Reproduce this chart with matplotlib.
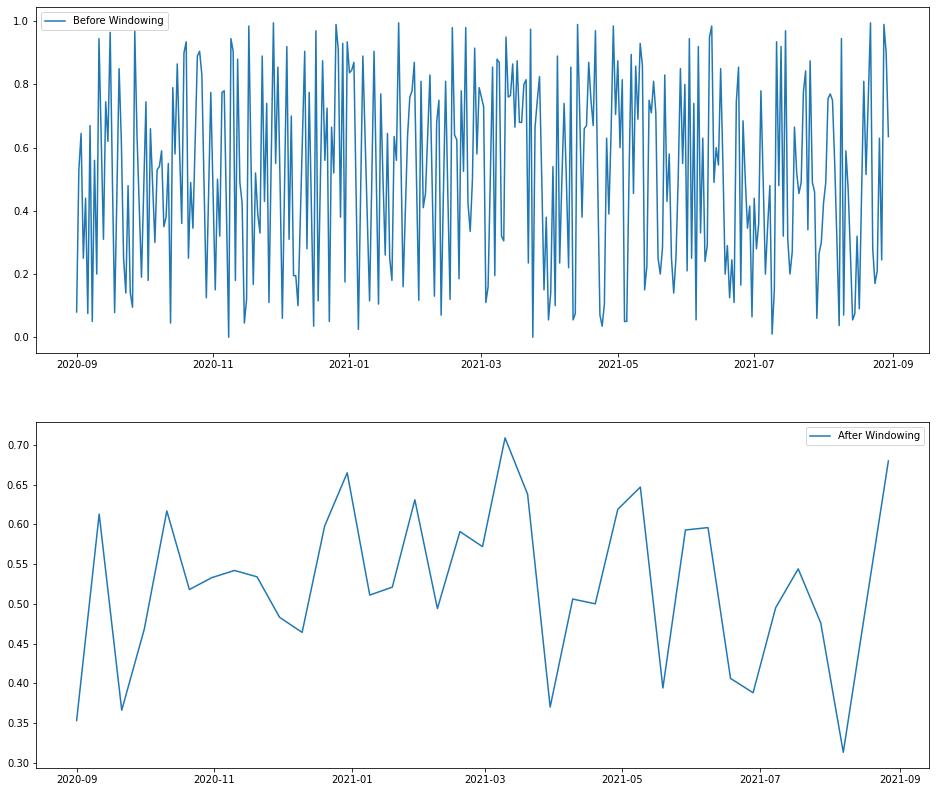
import pandas as pd
import matplotlib.pyplot as plt

# daily values (from 2020-09-01)
before_vals = [
    0.08, 0.53, 0.645, 0.25, 0.44, 0.075, 0.67, 0.05, 0.56, 0.20,
    0.945, 0.62, 0.31, 0.745, 0.62, 0.965, 0.5, 0.078, 0.45, 0.85,
    0.62, 0.25, 0.14, 0.48, 0.14, 0.095, 0.97, 0.64, 0.41, 0.19,
    0.47, 0.745, 0.18, 0.66, 0.48, 0.30, 0.53, 0.54, 0.59, 0.35,
    0.38, 0.55, 0.045, 0.79, 0.58, 0.865, 0.6, 0.36, 0.90, 0.935,
    0.25, 0.49, 0.345, 0.62, 0.89, 0.905, 0.83, 0.48, 0.125, 0.45,
    0.775, 0.46, 0.15, 0.50, 0.32, 0.775, 0.78, 0.4, 0.0, 0.945,
    0.905, 0.18, 0.88, 0.49, 0.425, 0.045, 0.12, 0.985, 0.55, 0.167,
    0.52, 0.39, 0.33, 0.89, 0.43, 0.74, 0.11, 0.55, 0.995, 0.55,
    0.855, 0.48, 0.06, 0.5, 0.92, 0.31, 0.70, 0.195, 0.195, 0.10,
    0.37, 0.64, 0.905, 0.28, 0.775, 0.4, 0.035, 0.97, 0.115, 0.5,
    0.875, 0.56, 0.725, 0.05, 0.665, 0.52, 0.99, 0.91, 0.38, 0.93,
    0.175, 0.935, 0.837, 0.845, 0.87, 0.45, 0.025, 0.45, 0.89, 0.63,
    0.37, 0.115, 0.5, 0.905, 0.5, 0.105, 0.77, 0.5, 0.26, 0.645,
    0.25, 0.18, 0.635, 0.56, 0.995, 0.58, 0.16, 0.4, 0.64, 0.76,
    0.78, 0.87, 0.5, 0.117, 0.81, 0.41, 0.455, 0.64, 0.83, 0.48,
    0.13, 0.68, 0.75, 0.07, 0.45, 0.81, 0.45, 0.12, 0.98, 0.64,
    0.625, 0.185, 0.78, 0.525, 0.98, 0.425, 0.335, 0.5, 0.915, 0.58,
    0.79, 0.76, 0.73, 0.11, 0.16, 0.5, 0.855, 0.195, 0.88, 0.87,
    0.32, 0.305, 0.95, 0.76, 0.765, 0.865, 0.665, 0.875, 0.68, 0.68,
    0.80, 0.815, 0.235, 0.975, 0.0, 0.665, 0.75, 0.825, 0.5, 0.15,
    0.38, 0.055, 0.14, 0.54, 0.10, 0.89, 0.235, 0.5, 0.74, 0.5,
    0.22, 0.855, 0.055, 0.075, 0.99, 0.7, 0.38, 0.66, 0.67, 0.87,
    0.75, 0.67, 0.97, 0.5, 0.07, 0.035, 0.105, 0.63, 0.39, 0.65,
    0.985, 0.705, 0.875, 0.60, 0.815, 0.05, 0.05, 0.5, 0.895, 0.455,
    0.858, 0.69, 0.93, 0.86, 0.15, 0.225, 0.75, 0.71, 0.81, 0.71,
    0.25, 0.2, 0.285, 0.83, 0.43, 0.58, 0.25, 0.14, 0.25, 0.5,
    0.85, 0.55, 0.80, 0.21, 0.945, 0.25, 0.74, 0.055, 0.92, 0.33,
    0.63, 0.24, 0.29, 0.95, 0.985, 0.49, 0.60, 0.545, 0.85, 0.55,
    0.20, 0.29, 0.125, 0.245, 0.11, 0.745, 0.855, 0.165, 0.685, 0.5,
    0.345, 0.415, 0.065, 0.44, 0.28, 0.36, 0.78, 0.5, 0.20, 0.35,
    0.48, 0.01, 0.15, 0.935, 0.48, 0.92, 0.32, 0.97, 0.31, 0.2,
    0.27, 0.665, 0.52, 0.455, 0.49, 0.777, 0.843, 0.34, 0.875, 0.49,
    0.46, 0.06, 0.265, 0.30, 0.425, 0.49, 0.755, 0.77, 0.75, 0.55,
    0.3, 0.037, 0.945, 0.07, 0.59, 0.47, 0.27, 0.055, 0.075, 0.32,
    0.09, 0.45, 0.81, 0.515, 0.75, 0.995, 0.28, 0.17, 0.21, 0.63,
    0.245, 0.99, 0.90, 0.635,
]

# 10-day window values
after_vals = [
    0.353, 0.613, 0.366, 0.468, 0.617, 0.518, 0.533, 0.542, 0.534, 0.483,
    0.464, 0.598, 0.665, 0.511, 0.521, 0.631, 0.494, 0.591, 0.572, 0.709,
    0.638, 0.370, 0.506, 0.500, 0.619, 0.647, 0.394, 0.593, 0.596, 0.406,
    0.388, 0.495, 0.544, 0.476, 0.313, 0.497, 0.680,
]

before_dates = pd.date_range('2020-09-01', periods=len(before_vals), freq='D')
after_dates = pd.date_range('2020-09-01', periods=len(after_vals), freq='10D')

fig, (ax1, ax2) = plt.subplots(2, 1, figsize=(13, 11), dpi=72)
fig.subplots_adjust(left=0.0385, right=0.9925, top=0.991, bottom=0.0303, hspace=0.2)

ax1.plot(before_dates, before_vals, label='Before Windowing')
ax1.legend(loc='upper left')

ax2.plot(after_dates, after_vals, label='After Windowing')
ax2.legend(loc='upper right')

plt.savefig('out.png', dpi=72)
